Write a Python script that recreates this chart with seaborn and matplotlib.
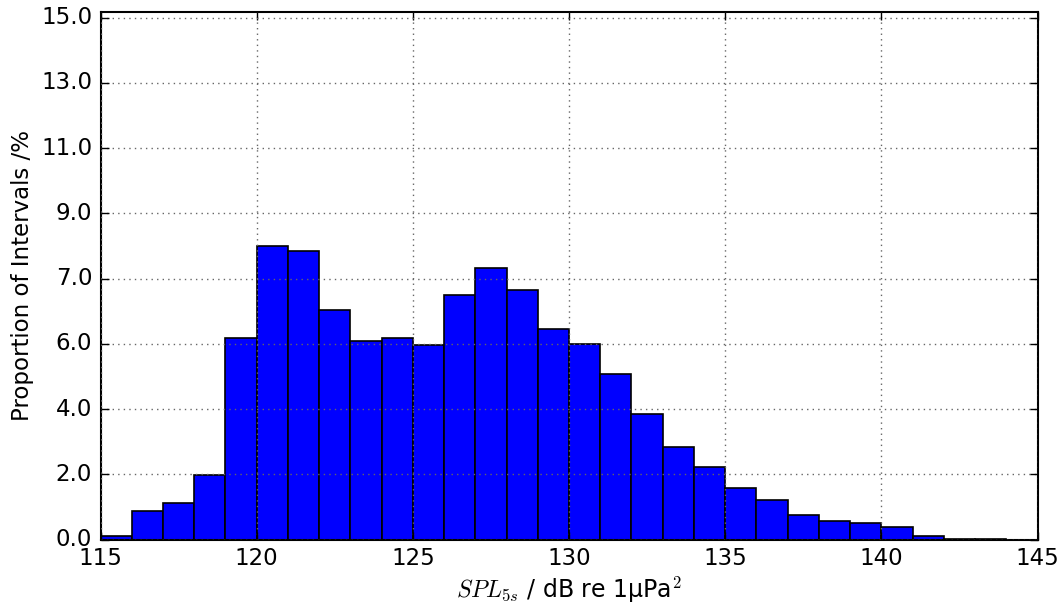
import numpy as np
import matplotlib
matplotlib.use("Agg")
import matplotlib.pyplot as plt
import seaborn as sns

# histogram of 5 s SPL, 1 dB bins
bin_edges = list(range(115, 146))
heights = [0.09, 0.81, 1.04, 1.87, 5.80, 8.44, 8.30, 6.59, 5.72, 5.78,
           5.60, 7.04, 7.80, 7.18, 6.04, 5.62, 4.76, 3.60, 2.65, 2.09,
           1.49, 1.13, 0.70, 0.54, 0.48, 0.35, 0.09, 0.03, 0.02, 0.0]
ytick_labels = ["0.0", "2.0", "4.0", "6.0", "7.0", "9.0", "11.0", "13.0", "15.0"]
xticks = [115, 120, 125, 130, 135, 140, 145]

plt.style.use('classic')
plt.rcParams['mathtext.fontset'] = 'cm'
plt.rcParams['font.family'] = ['DejaVu Sans']

fig = plt.figure(figsize=(10.64, 6.07), dpi=100, facecolor='white')
ax = fig.add_axes([0.0945, 0.111, 0.8806, 0.8697])

centers = [e + 0.5 for e in bin_edges[:-1]]
sns.histplot(x=centers, weights=heights, bins=bin_edges, ax=ax,
             color='#0000ff', edgecolor='black', linewidth=1.2, alpha=1.0)

ax.set_xlim(115, 145)
ax.set_ylim(0, 15.17)
ax.set_xticks(xticks)
ax.set_xticklabels([str(t) for t in xticks], fontsize=16.5)
ax.set_yticks(np.linspace(0, 15, 9))
ax.set_yticklabels(ytick_labels, fontsize=16.5)
ax.grid(True, linestyle=':', color='#666666', linewidth=1.0)
ax.set_axisbelow(False)
ax.tick_params(direction='in', length=6, width=1, top=True, right=True)
ax.tick_params(axis='x', pad=5)
ax.tick_params(axis='y', pad=6)
for s in ax.spines.values():
    s.set_linewidth(1.5)

ax.set_ylabel("Proportion of Intervals /%", fontsize=16.5, labelpad=5)
ax.set_xlabel(r"$SPL_{5s}$ / dB re 1µPa$^2$", fontsize=17, labelpad=4)

fig.savefig("out.png", dpi=100, facecolor='white')
